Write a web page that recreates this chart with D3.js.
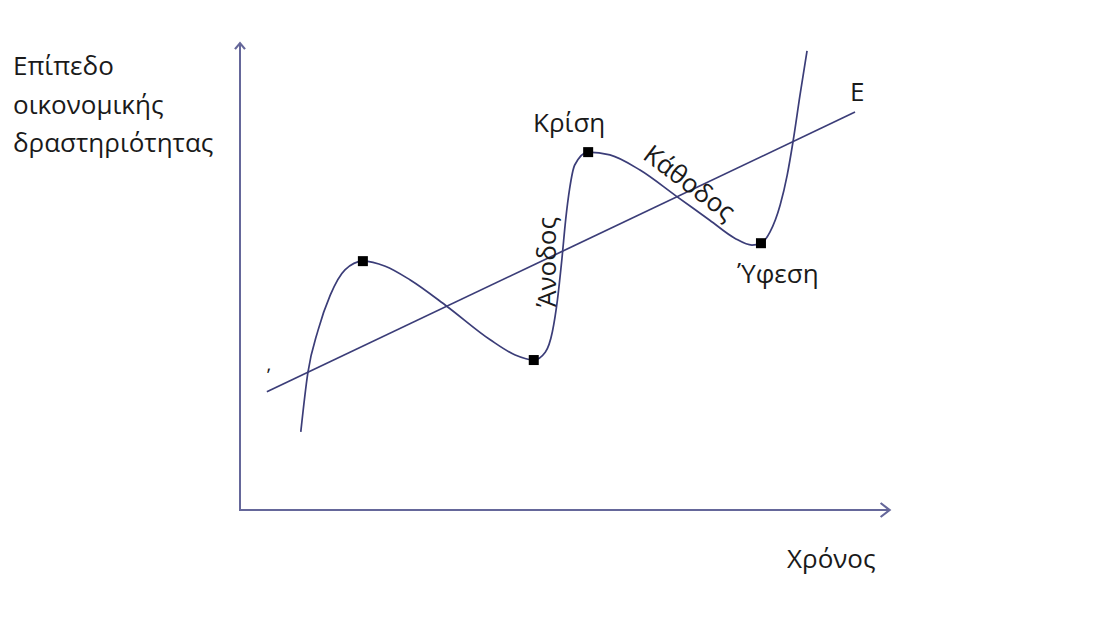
<!DOCTYPE html>
<html>
<head>
<meta charset="utf-8">
<script src="https://cdn.jsdelivr.net/npm/d3@7"></script>
<style>
  html, body { margin: 0; padding: 0; background: #ffffff; }
  svg { display: block; }
  text { font-family: "Open Sans", "Noto Sans", sans-serif; fill: #1a1a1a; }
</style>
</head>
<body>
<svg id="chart" width="1104" height="628"></svg>
<script>
// ---- Data (time in arbitrary units 0-100, activity level 0-100) ----
const cycleTime  = [9.5, 10.6, 12.2, 14.1, 16.4, 19.2, 22.7, 26.6, 32.3, 39.1, 43.0, 45.9,
                    47.7, 48.8, 49.6, 50.3, 50.9, 51.5, 52.3, 54.4, 57.8, 62.5, 68.1, 73.4,
                    77.3, 80.0, 81.4, 82.8, 84.4, 85.5, 86.4, 87.5, 88.6];
const cycleLevel = [17.0, 29.8, 39.1, 46.7, 52.2, 54.1, 53.0, 50.0, 44.3, 37.0, 33.7, 32.6,
                    34.3, 38.7, 45.7, 54.6, 63.3, 69.8, 75.0, 77.8, 77.2, 73.9, 68.3, 63.0,
                    59.1, 57.6, 58.0, 60.4, 66.3, 72.8, 80.0, 90.2, 99.8];
const trendTime  = [4.2, 96.1];
const trendLevel = [25.7, 86.5];
const turnTime   = [19.2, 45.9, 54.4, 81.4];
const turnLevel  = [54.1, 32.6, 77.8, 58.0];
const phaseLabels = ["Κρίση", "Ύφεση"];
const yTitle = ["Επίπεδο", "οικονομικής", "δραστηριότητας"];
const xTitle = "Χρόνος";
const trendLabel = "Ε";
const riseLabel = "Άνοδος";
const fallLabel = "Κάθοδος";

// ---- Scales ----
const x = d3.scaleLinear().domain([0, 100]).range([240, 880]);
const y = d3.scaleLinear().domain([0, 100]).range([510, 50]);

const svg = d3.select("#chart");
const lineCol = "#3b3d78";
const axisCol = "#65679a";

// ---- Axes (arrows) ----
const ax = svg.append("g");
ax.append("line").attr("x1", x(0)).attr("y1", y(0)).attr("x2", x(0)).attr("y2", y(101.5))
  .attr("stroke", axisCol).attr("stroke-width", 2);
ax.append("line").attr("x1", x(0) - 1).attr("y1", y(0)).attr("x2", x(101.5)).attr("y2", y(0))
  .attr("stroke", axisCol).attr("stroke-width", 2);
ax.append("path")
  .attr("d", `M${x(0) - 5},${y(101.5) + 6} L${x(0)},${y(101.5)} L${x(0) + 5},${y(101.5) + 6}`)
  .attr("fill", "none").attr("stroke", axisCol).attr("stroke-width", 2.2);
ax.append("path")
  .attr("d", `M${x(101.5) - 9},${y(0) - 7} L${x(101.5)},${y(0)} L${x(101.5) - 9},${y(0) + 7}`)
  .attr("fill", "none").attr("stroke", axisCol).attr("stroke-width", 2.2);

// ---- Trend line ----
const trendPts = trendTime.map((t, i) => [t, trendLevel[i]]);
svg.append("path")
  .attr("d", d3.line().x(d => x(d[0])).y(d => y(d[1]))(trendPts))
  .attr("fill", "none").attr("stroke", lineCol).attr("stroke-width", 1.7);

// ---- Business cycle curve ----
const cyclePts = cycleTime.map((t, i) => [t, cycleLevel[i]]);
svg.append("path")
  .attr("d", d3.line().curve(d3.curveMonotoneX).x(d => x(d[0])).y(d => y(d[1]))(cyclePts))
  .attr("fill", "none").attr("stroke", lineCol).attr("stroke-width", 1.7);

// ---- Turning point markers ----
const sz = 10;
svg.selectAll("rect.turn").data(turnTime.map((t, i) => [t, turnLevel[i]])).join("rect")
  .attr("class", "turn")
  .attr("x", d => x(d[0]) - sz / 2).attr("y", d => y(d[1]) - sz / 2)
  .attr("width", sz).attr("height", sz).attr("fill", "#000");

// ---- Texts ----
const fs = 26;
const yt = svg.append("text").attr("font-size", fs);
yTitle.forEach((s, i) => {
  yt.append("tspan").attr("x", 13).attr("y", 75 + i * 38.5).text(s);
});
svg.append("text").attr("x", 787).attr("y", 568).attr("font-size", fs).text(xTitle);
svg.append("text").attr("x", x(trendTime[1]) - 5).attr("y", 101).attr("font-size", fs).text(trendLabel);
svg.append("text").attr("x", x(turnTime[2]) - 19).attr("y", 132).attr("font-size", fs)
  .attr("text-anchor", "middle").text(phaseLabels[0]);
svg.append("text").attr("x", x(turnTime[3]) + 17).attr("y", 283).attr("font-size", fs)
  .attr("text-anchor", "middle").text(phaseLabels[1]);
svg.append("text").attr("font-size", fs).attr("text-anchor", "middle")
  .attr("transform", `translate(556,262) rotate(-90)`).text(riseLabel);
svg.append("text").attr("font-size", fs).attr("text-anchor", "middle")
  .attr("transform", `translate(684,190) rotate(37)`).text(fallLabel);
// small stray mark near trend start
svg.append("text").attr("x", 267).attr("y", 382).attr("font-size", 18).text("ʹ");
</script>
</body>
</html>
